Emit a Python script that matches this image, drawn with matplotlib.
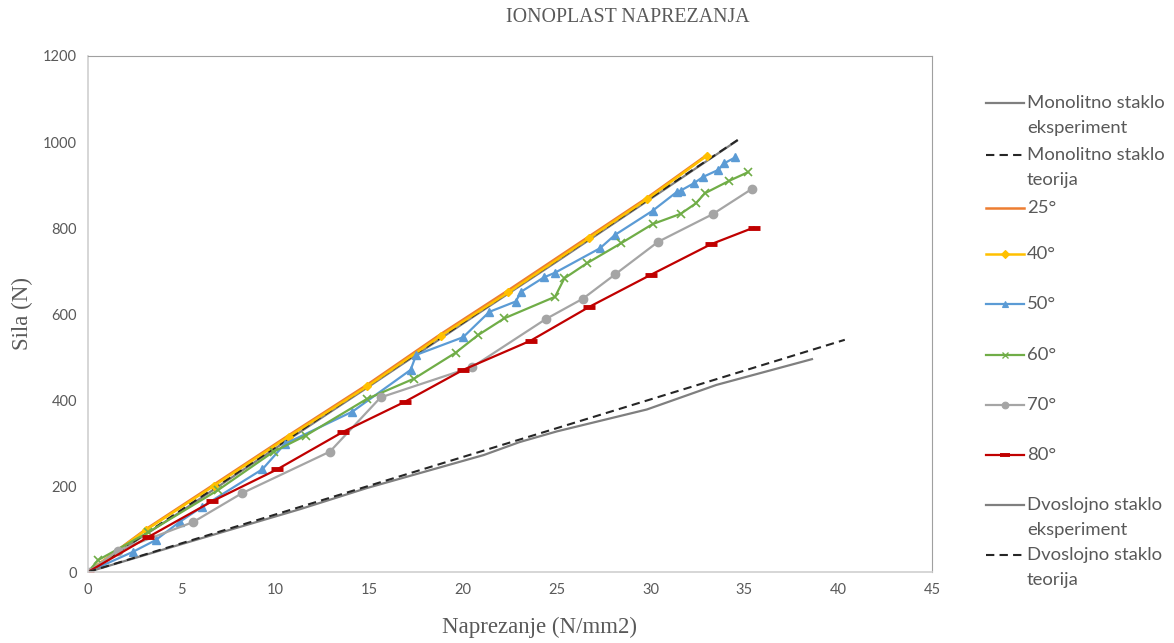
import numpy as np
import matplotlib
matplotlib.use("Agg")
import matplotlib.pyplot as plt
from matplotlib.lines import Line2D

# --- data ---
mono_eksp_x = [0, 5, 10, 15, 20, 25, 30, 34.6]
mono_eksp_y = [0, 142, 288, 432, 578, 722, 868, 1003]

mono_teor_x = [0, 34.65]
mono_teor_y = [0, 1005]

a25_x = [0, 3.1, 6.7, 10.7, 14.9, 18.8, 22.4, 26.7, 29.8, 33.0]
a25_y = [0, 100, 203, 318, 436, 553, 655, 780, 870, 970]

a40_x = [0, 3.1, 6.7, 10.7, 14.9, 18.8, 22.4, 26.7, 29.8, 33.0]
a40_y = [0, 98, 200, 315, 432, 549, 650, 776, 867, 968]

a50_x = [0, 2.4, 3.6, 4.9, 6.1, 9.3, 10.5, 14.1, 17.2, 17.5, 20.0, 21.4, 22.8,
         23.1, 24.3, 24.9, 27.3, 28.1, 30.1, 31.4, 31.6, 32.3, 32.8, 33.6, 33.9, 34.5]
a50_y = [0, 47, 74, 117, 152, 239, 298, 373, 470, 505, 546, 605, 629,
         652, 685, 696, 753, 784, 840, 884, 887, 904, 919, 935, 950, 964]

a60_x = [0, 0.55, 3.2, 6.95, 9.9, 11.6, 14.85, 17.4, 19.6, 20.8, 22.2, 24.9,
         25.4, 26.6, 28.4, 30.1, 31.6, 32.4, 32.9, 34.2, 35.2]
a60_y = [0, 28, 92, 191, 280, 317, 402, 450, 510, 551, 590, 640,
         683, 718, 764, 809, 833, 857, 881, 910, 930]

a70_x = [0, 1.6, 5.6, 8.2, 12.9, 15.6, 20.5, 24.4, 26.4, 28.1, 30.4, 33.3, 35.4]
a70_y = [0, 50, 116, 183, 280, 406, 477, 588, 636, 692, 768, 832, 891]

a80_x = [0, 3.2, 6.6, 10.1, 13.6, 16.9, 20.0, 23.6, 26.7, 30.0, 33.2, 35.5]
a80_y = [0, 81, 164, 239, 326, 396, 470, 538, 616, 691, 762, 801]

dvo_eksp_x = [0, 5, 11.3, 14.85, 21.1, 23.0, 25.0, 29.8, 33.5, 38.6]
dvo_eksp_y = [0, 65, 146, 195, 272, 302, 327, 378, 435, 495]

dvo_teor_x = [0, 40.35]
dvo_teor_y = [0, 540]

x_ticks = list(range(0, 46, 5))
y_ticks = list(range(0, 1201, 200))

# --- figure ---
W, H = 1174, 643
fig = plt.figure(figsize=(W / 100, H / 100), dpi=100)
ax = fig.add_axes([88 / W, 1 - 572 / H, (932 - 88) / W, (572 - 56) / H])

dash = (0, (4, 2.5))
series = [
    # label, x, y, style
    ("Monolitno staklo\neksperiment", mono_eksp_x, mono_eksp_y,
     dict(color="#7f7f7f", lw=1.6)),
    ("Monolitno staklo\nteorija", mono_teor_x, mono_teor_y,
     dict(color="#262626", lw=1.5, ls=dash)),
    ("25°", a25_x, a25_y, dict(color="#ed7d31", lw=1.8)),
    ("40°", a40_x, a40_y, dict(color="#ffc000", lw=1.8, marker="D", ms=4.5)),
    ("50°", a50_x, a50_y, dict(color="#5b9bd5", lw=1.6, marker="^", ms=6)),
    ("60°", a60_x, a60_y, dict(color="#70ad47", lw=1.6, marker="x", ms=6, mew=1.2)),
    ("70°", a70_x, a70_y, dict(color="#a5a5a5", lw=1.6, marker="o", ms=6)),
    ("80°", a80_x, a80_y, dict(color="#c00000", lw=1.6, marker="_", ms=9, mew=3.5)),
    ("Dvoslojno staklo\neksperiment", dvo_eksp_x, dvo_eksp_y,
     dict(color="#7f7f7f", lw=1.6)),
    ("Dvoslojno staklo\nteorija", dvo_teor_x, dvo_teor_y,
     dict(color="#262626", lw=1.5, ls=dash)),
]

for lab, xs, ys, st in series:
    ax.plot(xs, ys, label=lab, **st)

ax.set_xlim(0, 45)
ax.set_ylim(0, 1200)
ax.set_xticks(x_ticks)
ax.set_yticks(y_ticks)
ax.tick_params(length=0, pad=8, labelsize=10.5, labelcolor="#595959")
for lbl in ax.get_xticklabels() + ax.get_yticklabels():
    lbl.set_fontfamily("Lato")
for s in ax.spines.values():
    s.set_color("#d0d0d0")
    s.set_linewidth(1.2)
ax.spines["top"].set_color("#a0a0a0")
ax.spines["right"].set_color("#a0a0a0")
ax.spines["top"].set_linewidth(0.8)
ax.spines["right"].set_linewidth(0.8)

fig.text(628 / W, 1 - 17 / H, "IONOPLAST NAPREZANJA", ha="center", va="center",
         family="Liberation Serif", fontsize=14.3, color="#595959")
fig.text(540 / W, 1 - 627 / H, "Naprezanje (N/mm2)", ha="center", va="center",
         family="Liberation Serif", fontsize=16.5, color="#595959")
fig.text(22 / W, 1 - 314 / H, "Sila (N)", ha="center", va="center", rotation=90,
         family="Liberation Serif", fontsize=16.5, color="#595959")

# legend drawn by hand so the handle sits on the first text line
leg_y = [103, 155, 208, 254, 304, 355, 405, 455, 505, 555]
for (lab, xs, ys, st), py in zip(series, leg_y):
    yy = 1 - py / H
    line = Line2D([986 / W, 1024 / W], [yy, yy], transform=fig.transFigure,
                  color=st["color"], lw=st.get("lw", 1.5), ls=st.get("ls", "-"))
    fig.add_artist(line)
    if "marker" in st:
        mk = Line2D([1005 / W], [yy], transform=fig.transFigure, ls="none",
                    color=st["color"], marker=st["marker"],
                    ms=st.get("ms", 6) * 0.8, mew=st.get("mew", 1) * 0.8)
        fig.add_artist(mk)
    for k, part in enumerate(lab.split("\n")):
        fig.text(1027 / W, 1 - (py + 25 * k) / H, part, ha="left", va="center",
                 fontsize=13.3, family="Lato", color="#595959")

fig.savefig("out.png", dpi=100)
